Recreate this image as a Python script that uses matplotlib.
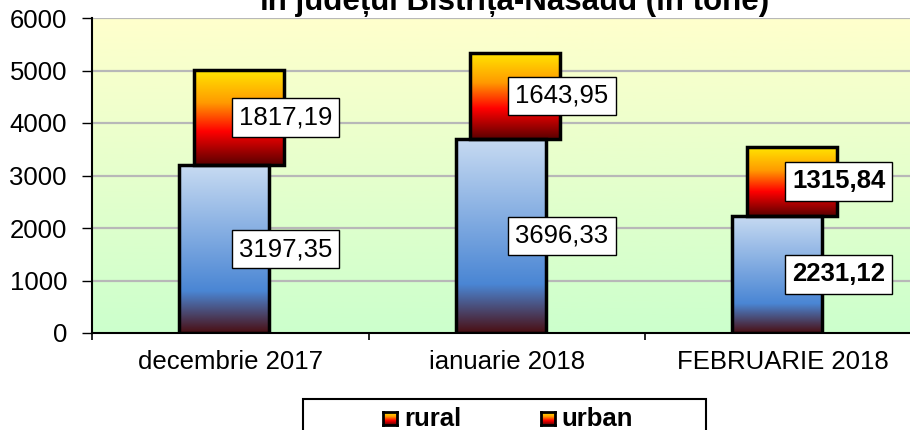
import numpy as np
import matplotlib
matplotlib.use("Agg")
import matplotlib.pyplot as plt
from matplotlib.colors import LinearSegmentedColormap

plt.rcParams['font.family'] = ['Liberation Sans', 'DejaVu Sans']

categories = ["decembrie 2017", "ianuarie 2018", "FEBRUARIE 2018"]
rural = [3197.35, 3696.33, 2231.12]
urban = [1817.19, 1643.95, 1315.84]
rural_labels = ["3197,35", "3696,33", "2231,12"]
urban_labels = ["1817,19", "1643,95", "1315,84"]
bold_labels = [False, False, True]
yticks = [0, 1000, 2000, 3000, 4000, 5000, 6000]
title = "în județul Bistrița-Năsăud (în tone)"

# gradients, listed from bottom to top
cmap_rural = LinearSegmentedColormap.from_list(
    "rural", [(0.0, "#4a0e12"), (0.25, "#4a86d4"), (1.0, "#c8dbf2")])
cmap_urban = LinearSegmentedColormap.from_list(
    "urban", [(0.0, "#5a0000"), (0.35, "#ff0000"), (0.65, "#ff9a00"), (1.0, "#ffe800")])
cmap_bg = LinearSegmentedColormap.from_list("bg", ["#ccffcc", "#ffffcc"])

fig = plt.figure(figsize=(9.1, 4.3), dpi=100)
ax = fig.add_axes([92 / 910, 1 - 333 / 430, 829.5 / 910, 315 / 430])
ax.set_xlim(-0.5, 2.5)
ax.set_ylim(0, 6000)

grad = np.linspace(0, 1, 256).reshape(-1, 1)
ax.imshow(grad, extent=(-0.5, 2.5, 0, 6000), origin="lower", aspect="auto",
          cmap=cmap_bg, zorder=0)
for y in yticks[1:]:
    ax.axhline(y, color="#b8b8b8", lw=1.6, zorder=1)

x = np.arange(len(categories))
width = 0.325
bars_r = ax.bar(x - 0.022, rural, width, facecolor="none", edgecolor="black",
                lw=2.5, zorder=3)
bars_u = ax.bar(x + 0.031, urban, width, bottom=rural, facecolor="none",
                edgecolor="black", lw=2.5, zorder=3)

for bars, cmap in ((bars_r, cmap_rural), (bars_u, cmap_urban)):
    for b in bars:
        x0, y0 = b.get_x(), b.get_y()
        im = ax.imshow(grad, extent=(x0, x0 + b.get_width(), y0, y0 + b.get_height()),
                       origin="lower", aspect="auto", cmap=cmap, zorder=2)
        im.set_clip_path(b)

for i in range(len(categories)):
    weight = "bold" if bold_labels[i] else "normal"
    box = dict(boxstyle="square,pad=0.28", facecolor="white", edgecolor="black", lw=1)
    ax.text(x[i] + 0.2, rural[i] / 2, rural_labels[i], ha="center", va="center",
            fontsize=18.5, fontweight=weight, bbox=box, zorder=5)
    ax.text(x[i] + 0.2, rural[i] + urban[i] / 2, urban_labels[i], ha="center",
            va="center", fontsize=18.5, fontweight=weight, bbox=box, zorder=5)

ax.set_yticks(yticks)
ax.tick_params(axis="y", labelsize=18.5, length=7, width=1, pad=11)
ax.set_xticks(x)
ax.set_xticklabels(categories)
ax.tick_params(axis="x", which="major", labelsize=18.5, length=0, pad=12)
ax.set_xticks([-0.5, 0.5, 1.5, 2.5], minor=True)
ax.tick_params(axis="x", which="minor", length=5, width=1.2, direction="out")
for s in ("top", "right"):
    ax.spines[s].set_visible(False)
ax.spines["left"].set_linewidth(1.5)
ax.spines["bottom"].set_linewidth(1.5)

fig.text(514 / 910, 1 - 10 / 430, title, ha="center", va="baseline",
         fontsize=22.5, fontweight="bold")

# legend box, partly cut by the bottom edge
fig.patches.append(plt.Rectangle((303 / 910, -0.1), 403 / 910, 0.1 + 31 / 430,
                                 transform=fig.transFigure, facecolor="white",
                                 edgecolor="black", lw=1.5, zorder=-1))
for name, mx, tx in (("rural", 383, 404), ("urban", 541, 561)):
    lax = fig.add_axes([mx / 910, 1 - 425 / 430, 14 / 910, 13 / 430])
    lax.set_zorder(3)
    lax.imshow(grad, origin="lower", aspect="auto", cmap=cmap_urban)
    lax.set_xticks([])
    lax.set_yticks([])
    for sp in lax.spines.values():
        sp.set_linewidth(2)
    fig.text(tx / 910, 1 - 418.5 / 430, name, ha="left", va="center",
             fontsize=18.5, fontweight="bold")

fig.savefig("out.png", dpi=100)
